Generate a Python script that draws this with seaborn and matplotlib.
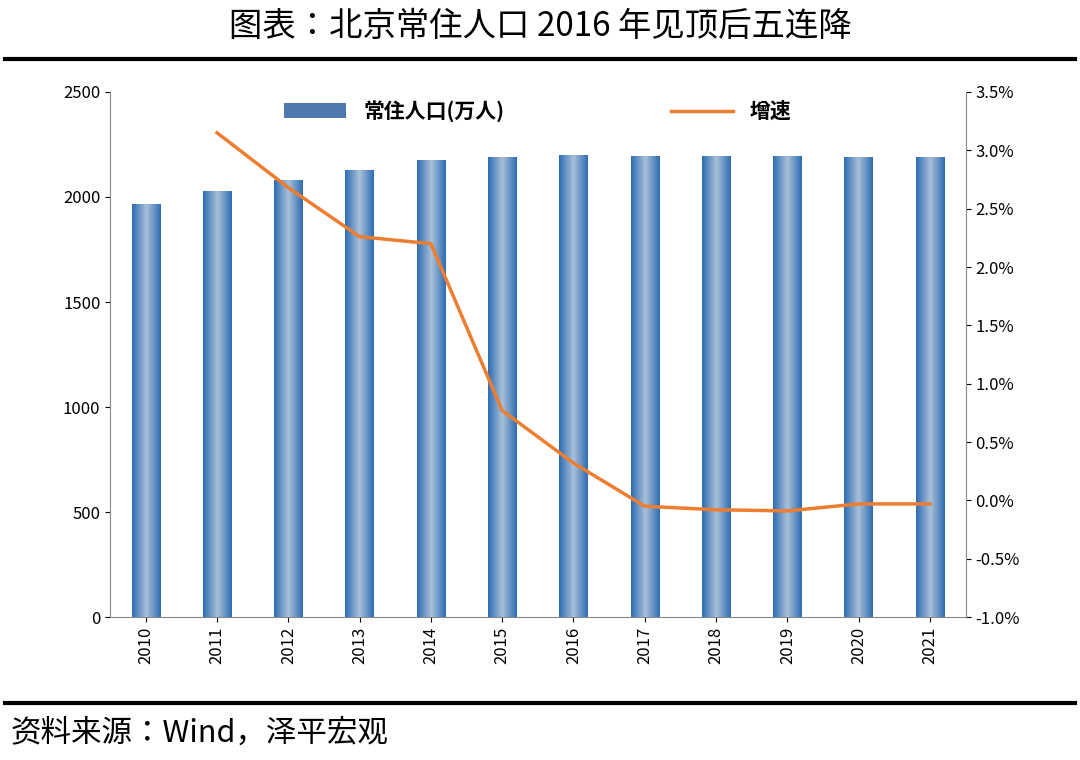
import numpy as np
import pandas as pd
import matplotlib.pyplot as plt
import seaborn as sns
from matplotlib import font_manager
from matplotlib.colors import LinearSegmentedColormap

# pick whichever CJK family matplotlib actually registered
names = {f.name for f in font_manager.fontManager.ttflist}
cjk = [n for n in ['Noto Sans CJK SC', 'Noto Sans CJK JP', 'Noto Sans CJK TC',
                   'Noto Sans CJK KR'] if n in names]
plt.rcParams['font.family'] = 'sans-serif'
plt.rcParams['font.sans-serif'] = cjk + ['DejaVu Sans']
cjk_font = cjk[0] if cjk else 'DejaVu Sans'

years = ['2010', '2011', '2012', '2013', '2014', '2015', '2016', '2017', '2018', '2019', '2020', '2021']
population = [1962, 2024, 2078, 2125, 2171, 2188, 2195, 2194, 2192, 2190, 2189, 2189]
growth = [np.nan, 3.15, 2.68, 2.26, 2.20, 0.77, 0.32, -0.05, -0.08, -0.09, -0.03, -0.03]

df = pd.DataFrame({'year': years, 'pop': population, 'growth': growth})

fig = plt.figure(figsize=(10.8, 7.6), dpi=100)
ax = fig.add_axes([0.102, 0.188, 0.792, 0.691])

sns.barplot(data=df, x='year', y='pop', ax=ax, width=0.4, color='#3f78bd',
            label='常住人口(万人)', zorder=2)

# horizontal gradient fill on each bar
cmap = LinearSegmentedColormap.from_list('g', ['#2e6db4', '#a9c0d8', '#2e6db4'])
grad = np.linspace(0, 1, 64).reshape(1, -1)
for p in ax.patches:
    x0, y0 = p.get_x(), p.get_y()
    w, h = p.get_width(), p.get_height()
    ax.imshow(grad, extent=[x0, x0 + w, y0, y0 + h], aspect='auto', cmap=cmap, zorder=3)
    p.set_edgecolor('none')
ax.set_xlim(-0.5, len(years) - 0.5)
ax.set_ylim(0, 2500)
ax.set_yticks(range(0, 2501, 500))
ax.set_xlabel('')
ax.set_ylabel('')
ax.tick_params(axis='x', rotation=90, labelsize=12)
ax.tick_params(axis='y', labelsize=12)
for s in ['top', 'right']:
    ax.spines[s].set_visible(False)
for s in ['left', 'bottom']:
    ax.spines[s].set_color('#888888')

ax2 = ax.twinx()
sns.lineplot(x=np.arange(len(years)), y=df['growth'], ax=ax2, color='#ed7d31',
             linewidth=2.5, label='增速')
ax2.set_ylim(-1.0, 3.5)
ax2.set_yticks(np.arange(-1.0, 3.51, 0.5))
ax2.set_yticklabels([f'{v:.1f}%' for v in np.arange(-1.0, 3.51, 0.5)], fontsize=12)
ax2.set_ylabel('')
for s in ['top', 'left', 'bottom']:
    ax2.spines[s].set_visible(False)
ax2.spines['right'].set_color('#888888')
ax2.get_legend().remove()

h1, l1 = ax.get_legend_handles_labels()
h2, l2 = ax2.get_legend_handles_labels()
ax.legend(h1 + h2, l1 + l2, loc='upper center', ncol=2, frameon=False,
          prop={'family': cjk_font, 'size': 15, 'weight': 'bold'},
          bbox_to_anchor=(0.5, 1.02), columnspacing=8, handlelength=3)

fig.text(0.5, 0.965, '图表：北京常住人口 2016 年见顶后五连降', ha='center', va='center',
         fontsize=24, family=cjk_font)
fig.add_artist(plt.Line2D([0.005, 0.995], [0.922, 0.922], color='black', lw=3))
fig.add_artist(plt.Line2D([0.005, 0.995], [0.075, 0.075], color='black', lw=3))
fig.text(0.01, 0.035, '资料来源：Wind，泽平宏观', ha='left', va='center',
         fontsize=22, style='italic', family=cjk_font)

fig.savefig('out.png', dpi=100)
